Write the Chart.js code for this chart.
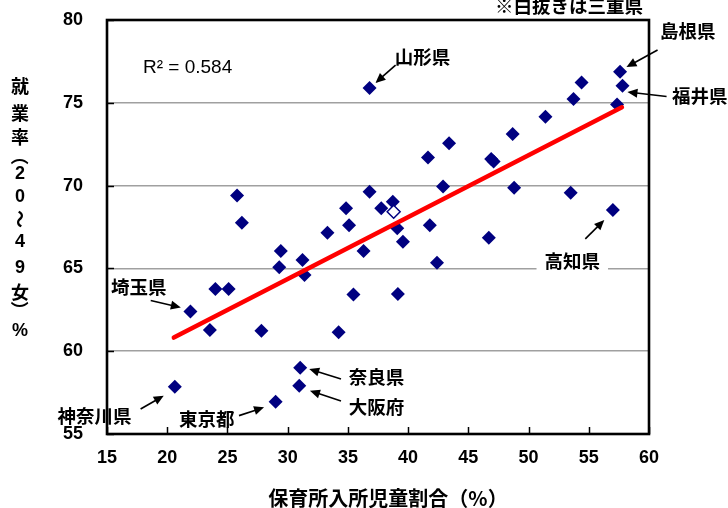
<!DOCTYPE html>
<html>
<head>
<meta charset="utf-8">
<script src="https://cdn.jsdelivr.net/npm/chart.js@4/dist/chart.umd.min.js"></script>
<style>
  html, body { margin: 0; padding: 0; background: #fff; }
  #wrap { width: 728px; height: 508px; }
</style>
</head>
<body>
<div id="wrap"><canvas id="c" width="728" height="508"></canvas></div>
<script>
// ---- data ----
const prefX = [25.8, 26.2, 36.8, 43.4, 41.65, 42.9, 36.8, 34.85, 37.77, 38.73,
               33.3, 39.1, 39.57, 41.8, 35.1, 36.3, 31.23, 31.4, 42.4, 35.46,
               39.15, 34.23, 31.04, 30.96, 29.43, 29.3, 24.0, 25.1, 21.93, 23.54,
               27.82, 20.63, 29.0, 57.6, 57.8, 57.35, 54.4, 53.73, 51.4, 48.68,
               46.9, 47.1, 48.8, 53.5, 57.0, 46.7];
const prefY = [69.4, 67.75, 75.9, 72.55, 71.7, 69.95, 69.63, 68.63, 68.63, 69.03,
               67.15, 67.42, 66.61, 67.6, 67.6, 66.05, 65.5, 64.6, 65.34, 63.43,
               63.45, 61.14, 59.0, 57.92, 66.05, 65.07, 63.76, 63.76, 62.39, 61.28,
               61.24, 57.86, 56.95, 76.88, 76.03, 74.9, 76.22, 75.23, 74.16, 73.12,
               71.6, 71.45, 69.87, 69.57, 68.53, 66.85];
const mieX = [38.8];          // 三重県 (hollow marker)
const mieY = [68.42];
const trendX = [20.55, 57.75]; // regression line ends
const trendY = [60.82, 74.73];
const xTicks = [15, 20, 25, 30, 35, 40, 45, 50, 55, 60];
const yTicks = [55, 60, 65, 70, 75, 80];
const rSquared = 'R² = 0.584';
const xTitle = '保育所入所児童割合（%）';
const yTitleChars = ['就', '業', '率', '（', '2', '0', '～', '4', '9', '女', '）', '%'];
const noteText = '※白抜きは三重県';

// callouts: label, text position (data units), arrow tail -> head (data units)
const callouts = [
  { t: '山形県',   tx: 41.2,  ty: 77.77, ax: 38.96, ay: 77.28, bx: 37.29, by: 76.2 },
  { t: '島根県',   tx: 63.21, ty: 79.34, ax: 60.71, ay: 78.19, bx: 58.13, by: 77.16 },
  { t: '福井県',   tx: 64.21, ty: 75.41, ax: 61.46, ay: 75.38, bx: 58.21, by: 75.65 },
  { t: '高知県',   tx: 53.63, ty: 65.45, ax: 54.71, ay: 66.78, bx: 56.29, by: 67.92, bg: true },
  { t: '埼玉県',   tx: 17.63, ty: 63.88, ax: 18.63, ay: 63.06, bx: 21.13, by: 62.64 },
  { t: '神奈川県', tx: 13.96, ty: 56.09, ax: 17.79, ay: 56.51, bx: 19.71, by: 57.31 },
  { t: '東京都',   tx: 23.29, ty: 55.91, ax: 25.96, ay: 56.11, bx: 28.04, by: 56.61 },
  { t: '奈良県',   tx: 37.38, ty: 58.44, ax: 34.43, ay: 58.32, bx: 31.79, by: 58.93 },
  { t: '大阪府',   tx: 37.38, ty: 56.63, ax: 34.43, ay: 56.99, bx: 31.85, by: 57.61 }
];

const NAVY = '#000080';
const JP = "'Noto Sans CJK JP', 'Noto Sans', sans-serif";
const LAT = "'Liberation Sans', Arial, sans-serif";

function arrow(ctx, x1, y1, x2, y2) {
  const ang = Math.atan2(y2 - y1, x2 - x1);
  const L = 10, W = 4.5;
  ctx.save();
  ctx.strokeStyle = '#000'; ctx.fillStyle = '#000'; ctx.lineWidth = 1.6;
  ctx.beginPath();
  ctx.moveTo(x1, y1);
  ctx.lineTo(x2 - Math.cos(ang) * (L - 1), y2 - Math.sin(ang) * (L - 1));
  ctx.stroke();
  ctx.beginPath();
  ctx.moveTo(x2, y2);
  ctx.lineTo(x2 - Math.cos(ang) * L - Math.sin(ang) * W, y2 - Math.sin(ang) * L + Math.cos(ang) * W);
  ctx.lineTo(x2 - Math.cos(ang) * L + Math.sin(ang) * W, y2 - Math.sin(ang) * L - Math.cos(ang) * W);
  ctx.closePath();
  ctx.fill();
  ctx.restore();
}

const decor = {
  id: 'decor',
  afterDraw(chart) {
    const ctx = chart.ctx;
    const a = chart.chartArea;
    const xs = chart.scales.x, ys = chart.scales.y;
    ctx.save();
    // inward tick marks
    ctx.strokeStyle = '#000'; ctx.lineWidth = 1.5;
    xTicks.forEach(v => {
      const px = Math.round(xs.getPixelForValue(v)) + 0.5;
      ctx.beginPath(); ctx.moveTo(px, a.bottom); ctx.lineTo(px, a.bottom - 7); ctx.stroke();
    });
    yTicks.forEach(v => {
      const py = Math.round(ys.getPixelForValue(v)) + 0.5;
      ctx.beginPath(); ctx.moveTo(a.left, py); ctx.lineTo(a.left + 7, py); ctx.stroke();
    });
    // frame
    ctx.lineWidth = 2.6;
    ctx.strokeRect(a.left, a.top, a.right - a.left, a.bottom - a.top);

    // R squared
    ctx.fillStyle = '#000';
    ctx.font = '19px ' + LAT;
    ctx.textAlign = 'left'; ctx.textBaseline = 'middle';
    ctx.fillText(rSquared, a.left + 36, a.top + 48);

    // callouts
    ctx.font = 'bold 18.5px ' + JP;
    ctx.textAlign = 'center'; ctx.textBaseline = 'middle';
    callouts.forEach(c => {
      const tx = xs.getPixelForValue(c.tx), ty = ys.getPixelForValue(c.ty);
      if (c.bg) {
        const w = ctx.measureText(c.t).width;
        ctx.fillStyle = '#fff';
        ctx.fillRect(tx - w / 2 - 8, ty - 11, w + 16, 22);
      }
      ctx.fillStyle = '#000';
      ctx.fillText(c.t, tx, ty);
      arrow(ctx, xs.getPixelForValue(c.ax), ys.getPixelForValue(c.ay),
                 xs.getPixelForValue(c.bx), ys.getPixelForValue(c.by));
    });

    // note at top
    ctx.font = 'bold 18.5px ' + JP;
    ctx.textAlign = 'center';
    ctx.fillStyle = '#000';
    ctx.fillText(noteText, 569, 6);

    // x axis title
    ctx.font = 'bold 20px ' + JP;
    ctx.fillText(xTitle, 388, 498);

    // y axis title (vertical)
    const ypos = [86, 113, 137, 156, 174, 197, 219, 242, 268, 292, 310, 331];
    yTitleChars.forEach((ch, i) => {
      const isDigit = /[0-9%]/.test(ch);
      ctx.font = isDigit ? 'bold 18px ' + LAT : 'bold 18px ' + JP;
      if (ch === '～' || ch === '（' || ch === '）') {
        ctx.save();
        ctx.translate(20, ypos[i]);
        ctx.rotate(Math.PI / 2);
        ctx.fillText(ch, 0, 0);
        ctx.restore();
      } else {
        ctx.fillText(ch, 20, ypos[i]);
      }
    });
    ctx.restore();
  }
};

const tickFont = { family: LAT, size: 18, weight: 'bold' };
function zeroPad(s) { s.paddingTop = 0; s.paddingBottom = 0; s.paddingLeft = 0; s.paddingRight = 0; }

new Chart(document.getElementById('c'), {
  type: 'scatter',
  data: {
    datasets: [
      {
        type: 'line',
        data: trendX.map((x, i) => ({ x: x, y: trendY[i] })),
        borderColor: '#ff0000', borderWidth: 4.5, borderCapStyle: 'round',
        pointRadius: 0, fill: false, showLine: true
      },
      {
        data: mieX.map((x, i) => ({ x: x, y: mieY[i] })),
        pointStyle: 'rectRot', pointRadius: 6.5,
        backgroundColor: '#ffffff', borderColor: NAVY, borderWidth: 1.5
      },
      {
        data: prefX.map((x, i) => ({ x: x, y: prefY[i] })),
        pointStyle: 'rectRot', pointRadius: 7,
        backgroundColor: NAVY, borderColor: NAVY, borderWidth: 0
      }
    ]
  },
  options: {
    responsive: false,
    animation: false,
    devicePixelRatio: 1,
    layout: { padding: { top: 20, right: 79, left: 0, bottom: 0 } },
    plugins: { legend: { display: false }, tooltip: { enabled: false } },
    scales: {
      x: {
        type: 'linear', min: 15, max: 60,
        afterBuildTicks: s => { s.ticks = xTicks.map(v => ({ value: v })); },
        afterFit: s => { s.height = 74; zeroPad(s); },
        grid: { display: false, drawTicks: false },
        border: { display: false },
        ticks: { font: tickFont, color: '#000', padding: 13, maxRotation: 0 }
      },
      y: {
        type: 'linear', min: 55, max: 80,
        afterBuildTicks: s => { s.ticks = yTicks.map(v => ({ value: v })); },
        afterFit: s => { s.width = 107; zeroPad(s); },
        grid: {
          drawTicks: false, lineWidth: 1.5,
          color: c => (c.tick && (c.tick.value === 55 || c.tick.value === 80)) ? 'rgba(0,0,0,0)' : '#a0a0a0'
        },
        border: { display: false },
        ticks: { font: tickFont, color: '#000', padding: 24 }
      }
    }
  },
  plugins: [decor]
});
</script>
</body>
</html>
